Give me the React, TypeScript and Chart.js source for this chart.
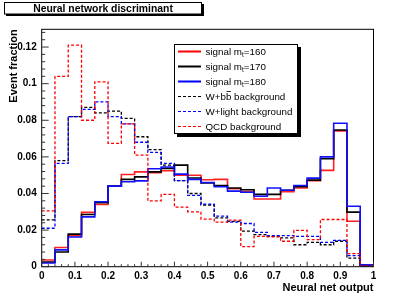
import React, { useEffect, useRef } from "react";
import { Chart, registerables } from "chart.js";

Chart.register(...registerables);

const BIN_WIDTH = 0.04;
const binEdges: number[] = [0, 0.04, 0.08, 0.12, 0.16, 0.2, 0.24, 0.28, 0.32, 0.36, 0.4, 0.44, 0.48, 0.52, 0.56, 0.6, 0.64, 0.68, 0.72, 0.76, 0.8, 0.84, 0.88, 0.92, 0.96];

const signal160: number[] = [0.0037, 0.0105, 0.017, 0.0297, 0.034, 0.044, 0.0504, 0.0518, 0.0513, 0.0524, 0.05, 0.05, 0.0475, 0.0477, 0.0426, 0.041, 0.037, 0.037, 0.041, 0.043, 0.047, 0.0526, 0.0742, 0.0248, 0.001];
const signal170: number[] = [0.0025, 0.008, 0.0178, 0.0285, 0.035, 0.044, 0.0477, 0.0491, 0.0518, 0.0537, 0.0555, 0.0485, 0.0457, 0.0444, 0.043, 0.042, 0.0395, 0.0395, 0.0418, 0.0437, 0.0473, 0.059, 0.0747, 0.0298, 0.001];
const signal180: number[] = [0.002, 0.0092, 0.0162, 0.0272, 0.0355, 0.044, 0.0464, 0.0469, 0.0535, 0.0545, 0.0506, 0.0477, 0.046, 0.0437, 0.0413, 0.0407, 0.0385, 0.043, 0.0418, 0.0444, 0.0484, 0.06, 0.0784, 0.033, 0.001];
const wbbBackground: number[] = [0.0256, 0.058, 0.082, 0.087, 0.084, 0.085, 0.081, 0.071, 0.064, 0.0555, 0.047, 0.04, 0.0337, 0.0267, 0.0248, 0.0194, 0.0175, 0.0166, 0.0157, 0.012, 0.0133, 0.012, 0.0139, 0.0047, 0.0005];
const wlightBackground: number[] = [0.021, 0.0565, 0.082, 0.086, 0.09, 0.082, 0.078, 0.068, 0.0625, 0.0564, 0.047, 0.039, 0.0342, 0.0276, 0.0243, 0.0236, 0.0188, 0.017, 0.017, 0.0166, 0.0166, 0.0133, 0.0144, 0.006, 0.0005];
const qcdBackground: number[] = [0.0305, 0.104, 0.121, 0.08, 0.101, 0.0674, 0.078, 0.061, 0.036, 0.0395, 0.0325, 0.03, 0.026, 0.0243, 0.0254, 0.011, 0.0166, 0.0163, 0.0139, 0.0199, 0.0148, 0.0258, 0.0258, 0.0071, 0.0005];

const titleText = "Neural network discriminant";
const xTitle = "Neural net output";
const yTitle = "Event fraction";

const legendEntries = [
  { pre: "signal m", sub: "t", post: "=160", color: "#ff0000", dash: [] as number[] },
  { pre: "signal m", sub: "t", post: "=170", color: "#000000", dash: [] as number[] },
  { pre: "signal m", sub: "t", post: "=180", color: "#0000ff", dash: [] as number[] },
  { pre: "W+bb", sub: "", post: " background", color: "#000000", dash: [3, 2], bar: true },
  { pre: "W+light background", sub: "", post: "", color: "#0000ff", dash: [3, 2] },
  { pre: "QCD background", sub: "", post: "", color: "#ff0000", dash: [3, 2] },
];

function histPoints(vals: number[]) {
  const pts = binEdges.map((x, i) => ({ x, y: vals[i] }));
  pts.push({ x: binEdges[binEdges.length - 1] + BIN_WIDTH, y: vals[vals.length - 1] });
  return pts;
}

const FONT = "'Liberation Sans', Arial, Helvetica, sans-serif";

const decorPlugin = {
  id: "rootDecor",
  afterDraw(chart: any) {
    const ctx = chart.ctx as CanvasRenderingContext2D;
    const { left, right, top, bottom } = chart.chartArea;
    const xs = chart.scales.x;
    const ys = chart.scales.y;
    ctx.save();
    // frame
    ctx.strokeStyle = "#000";
    ctx.lineWidth = 1;
    ctx.strokeRect(left, top, right - left, bottom - top);
    // x ticks (inward)
    ctx.strokeStyle = "#333";
    ctx.beginPath();
    for (let i = 0; i <= 50; i++) {
      const v = i * 0.02;
      const px = xs.getPixelForValue(v);
      const len = i % 5 === 0 ? 5 : 2.5;
      ctx.moveTo(px, bottom);
      ctx.lineTo(px, bottom - len);
    }
    // y ticks
    for (let i = 0; i * 0.004 <= ys.max + 1e-9; i++) {
      const v = i * 0.004;
      const py = ys.getPixelForValue(v);
      const len = i % 5 === 0 ? 7 : 3.5;
      ctx.moveTo(left, py);
      ctx.lineTo(left + len, py);
    }
    ctx.stroke();

    // title box
    ctx.fillStyle = "#000";
    ctx.fillRect(6, 4, 198, 12);
    ctx.fillStyle = "#fff";
    ctx.fillRect(4, 2, 198, 12);
    ctx.strokeStyle = "#000";
    ctx.strokeRect(4.5, 2.5, 197, 11.5);
    ctx.fillStyle = "#000";
    ctx.font = `bold 10.4px ${FONT}`;
    ctx.textAlign = "center";
    ctx.textBaseline = "alphabetic";
    ctx.fillText(titleText, 103, 12);

    // axis titles
    ctx.font = `bold 11px ${FONT}`;
    ctx.textAlign = "right";
    ctx.fillText(xTitle, right, 291);
    ctx.save();
    ctx.translate(16.5, top);
    ctx.rotate(-Math.PI / 2);
    ctx.textAlign = "right";
    ctx.fillText(yTitle, 0, 0);
    ctx.restore();

    // legend
    const lx = 174, ly = 44, lw = 124, lh = 90;
    ctx.fillStyle = "#000";
    ctx.fillRect(lx + 3, ly + 3, lw, lh);
    ctx.fillStyle = "#fff";
    ctx.fillRect(lx, ly, lw, lh);
    ctx.strokeStyle = "#000";
    ctx.lineWidth = 1;
    ctx.strokeRect(lx + 0.5, ly + 0.5, lw - 1, lh - 1);
    legendEntries.forEach((e, i) => {
      const cy = 51.5 + i * 15;
      ctx.strokeStyle = e.color;
      ctx.lineWidth = e.dash.length ? 1.1 : 2;
      ctx.setLineDash(e.dash);
      ctx.beginPath();
      ctx.moveTo(178, cy);
      ctx.lineTo(201, cy);
      ctx.stroke();
      ctx.setLineDash([]);
      ctx.fillStyle = "#000";
      ctx.font = `9.8px ${FONT}`;
      ctx.textAlign = "left";
      ctx.textBaseline = "alphabetic";
      let x = 205.5;
      const base = cy + 3.5;
      ctx.fillText(e.pre, x, base);
      const preW = ctx.measureText(e.pre).width;
      if ((e as any).bar) {
        const bW = ctx.measureText("b").width;
        ctx.lineWidth = 0.8;
        ctx.strokeStyle = "#000";
        ctx.beginPath();
        ctx.moveTo(x + preW - bW + 0.5, base - 8.5);
        ctx.lineTo(x + preW - 0.5, base - 8.5);
        ctx.stroke();
      }
      x += preW;
      if (e.sub) {
        ctx.font = `6.5px ${FONT}`;
        ctx.fillText(e.sub, x, base + 2);
        x += ctx.measureText(e.sub).width;
        ctx.font = `9.8px ${FONT}`;
      }
      if (e.post) ctx.fillText(e.post, x, base);
    });
    ctx.restore();
  },
};

const bgPlugin = {
  id: "whiteBg",
  beforeDraw(chart: any) {
    const ctx = chart.ctx;
    ctx.save();
    ctx.fillStyle = "#fff";
    ctx.fillRect(0, 0, chart.width, chart.height);
    ctx.restore();
  },
};

export default function App() {
  const ref = useRef<HTMLCanvasElement>(null);
  useEffect(() => {
    if (!ref.current) return;
    const mk = (label: string, vals: number[], color: string, dashed: boolean, order: number) => ({
      label,
      data: histPoints(vals),
      borderColor: color,
      backgroundColor: color,
      borderWidth: dashed ? 1.3 : 1.6,
      borderDash: dashed ? [3, 2] : [],
      stepped: "before" as const,
      pointRadius: 0,
      fill: false,
      order,
    });
    const chart = new Chart(ref.current, {
      type: "line",
      data: {
        datasets: [
          mk("signal mt=160", signal160, "#ff2020", false, 6),
          mk("signal mt=170", signal170, "#000000", false, 5),
          mk("signal mt=180", signal180, "#1010ff", false, 4),
          mk("W+bb background", wbbBackground, "#000000", true, 3),
          mk("W+light background", wlightBackground, "#0000ff", true, 2),
          mk("QCD background", qcdBackground, "#ff0000", true, 1),
        ],
      },
      options: {
        animation: false,
        responsive: false,
        devicePixelRatio: 1,
        layout: { padding: { top: 29.3, right: 41.5, left: 0, bottom: 0 } },
        plugins: { legend: { display: false }, tooltip: { enabled: false }, title: { display: false } },
        scales: {
          x: {
            type: "linear",
            min: 0,
            max: 1,
            grid: { display: false, drawTicks: false },
            border: { display: false },
            ticks: {
              stepSize: 0.1,
              padding: 4,
              color: "#000",
              maxRotation: 0,
              autoSkip: false,
              font: { family: FONT, weight: "bold", size: 10 },
              callback: (v: any) => String(parseFloat(Number(v).toFixed(2))),
            },
            afterFit: (s: any) => { s.height = 31.3; },
          },
          y: {
            type: "linear",
            min: 0,
            max: 0.1297,
            grid: { display: false, drawTicks: false },
            border: { display: false },
            ticks: {
              stepSize: 0.02,
              includeBounds: false,
              padding: 5,
              color: "#000",
              font: { family: FONT, weight: "bold", size: 10 },
              callback: (v: any) => String(parseFloat(Number(v).toFixed(2))),
            },
            afterFit: (s: any) => { s.width = 41.7; },
          },
        },
      },
      plugins: [bgPlugin, decorPlugin],
    } as any);
    return () => chart.destroy();
  }, []);
  return (
    <div style={{ position: "fixed", left: 0, top: 0, width: 415, height: 298, background: "#fff" }}>
      <canvas ref={ref} width={415} height={298} style={{ display: "block" }} />
    </div>
  );
}
